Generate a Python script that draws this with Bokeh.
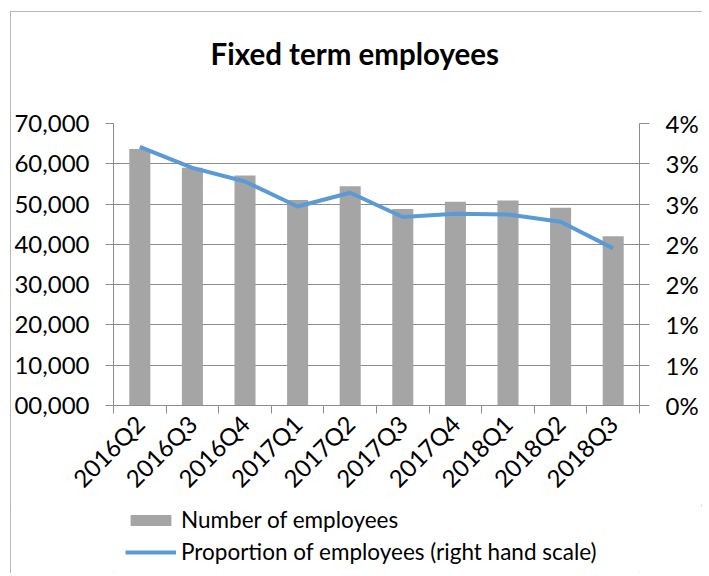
from bokeh.plotting import figure
from bokeh.layouts import column
from bokeh.models import Range1d, LinearAxis, FixedTicker, Legend, LegendItem, ColumnDataSource
from bokeh.embed import file_html
from bokeh.resources import INLINE

quarters = ["2016Q2", "2016Q3", "2016Q4", "2017Q1", "2017Q2",
            "2017Q3", "2017Q4", "2018Q1", "2018Q2", "2018Q3"]
employees = [63700, 59000, 57100, 51000, 54400, 48800, 50600, 50900, 49100, 42000]
proportion_pct = [3.21, 2.95, 2.78, 2.47, 2.64, 2.34, 2.38, 2.37, 2.28, 1.95]

left_ticks = [0, 10000, 20000, 30000, 40000, 50000, 60000, 70000]
left_tick_labels = ["00,000", "10,000", "20,000", "30,000", "40,000", "50,000", "60,000", "70,000"]
right_ticks = [0, 0.5, 1, 1.5, 2, 2.5, 3, 3.5]
right_tick_labels = ["0%", "1%", "1%", "2%", "2%", "3%", "3%", "4%"]
legend_labels = ["Number of employees", "Proportion of employees (right hand scale)"]

FONT = "Lato"
GRID = "#8c8c8c"
BAR = "#a5a5a5"
LINE = "#5b9bd5"

centers = [i + 0.5 for i in range(len(quarters))]
src = ColumnDataSource(dict(x=centers, q=quarters, emp=employees, pct=proportion_pct))

p = figure(output_backend="svg", toolbar_location=None,
           x_range=Range1d(0, len(quarters)), y_range=Range1d(0, 70000),
           frame_width=526, frame_height=282,
           min_border_left=103, min_border_top=112, min_border_right=63, min_border_bottom=90)
p.extra_y_ranges = {"pct": Range1d(0, 3.5)}
p.outline_line_color = None
p.background_fill_color = "white"

p.title.text = "Fixed term employees\n"
p.title.text_font = FONT
p.title.text_font_size = "29.5px"
p.title.text_font_style = "bold"
p.title.align = "left"
p.title.vertical_align = "top"
p.title.text_color = "black"
p.title.standoff = 32
p.title.offset = 97

bars = p.vbar(x="x", top="emp", width=0.4, source=src, fill_color=BAR, line_color=None)
line = p.line(x="x", y="pct", source=src, y_range_name="pct", line_color=LINE, line_width=4)

# x axis
xa = p.xaxis[0]
xa.ticker = FixedTicker(ticks=centers, minor_ticks=list(range(len(quarters) + 1)))
xa.major_label_overrides = {c: q for c, q in zip(centers, quarters)}
xa.major_tick_out = 0
xa.major_tick_in = 0
xa.minor_tick_out = 8
xa.minor_tick_in = 0
xa.minor_tick_line_color = GRID
xa.axis_line_color = GRID
xa.major_label_orientation = 0.785398
xa.major_label_text_font = FONT
xa.major_label_text_font_size = "24px"
xa.major_label_text_color = "black"
xa.major_label_standoff = 6

# left axis
ya = p.yaxis[0]
ya.ticker = FixedTicker(ticks=left_ticks)
ya.major_label_overrides = {t: l for t, l in zip(left_ticks, left_tick_labels)}
ya.major_tick_out = 8
ya.major_tick_in = 0
ya.minor_tick_out = 0
ya.minor_tick_in = 0
ya.major_tick_line_color = GRID
ya.axis_line_color = GRID
ya.major_label_text_font = FONT
ya.major_label_text_font_size = "24px"
ya.major_label_text_color = "black"
ya.major_label_standoff = 16

# right axis
ra = LinearAxis(y_range_name="pct", ticker=FixedTicker(ticks=right_ticks))
ra.major_label_overrides = {t: l for t, l in zip(right_ticks, right_tick_labels)}
ra.major_tick_out = 10
ra.major_tick_in = 0
ra.minor_tick_out = 0
ra.minor_tick_in = 0
ra.major_tick_line_color = GRID
ra.axis_line_color = GRID
ra.major_label_text_font = FONT
ra.major_label_text_font_size = "24px"
ra.major_label_text_color = "black"
ra.major_label_standoff = 16
p.add_layout(ra, "right")

p.xgrid.visible = False
p.ygrid.ticker = FixedTicker(ticks=left_ticks)
p.ygrid.grid_line_color = GRID

# legend strip below the chart (its frame is aligned with the chart frame)
lg = figure(output_backend="svg", toolbar_location=None, width=692, height=68,
            x_range=Range1d(0, 1), y_range=Range1d(0, 1),
            x_axis_type=None, y_axis_type=None,
            min_border_left=0, min_border_right=0, min_border_top=0, min_border_bottom=0)
lg.outline_line_color = None
lg.xgrid.visible = False
lg.ygrid.visible = False
lbar = lg.vbar(x="x", top="emp", width=0.4, source=src, fill_color=BAR, line_color=None, visible=False)
lline = lg.line(x="x", y="pct", source=src, line_color=LINE, line_width=4, visible=False)
legend = Legend(items=[LegendItem(label=legend_labels[0], renderers=[lbar]),
                       LegendItem(label=legend_labels[1], renderers=[lline])],
                location=(12, 8), orientation="vertical",
                glyph_width=51, glyph_height=14, label_standoff=5, spacing=5,
                padding=0, margin=0, border_line_color=None, background_fill_alpha=0,
                label_text_font=FONT, label_text_font_size="22.5px", label_text_color="black")
lg.add_layout(legend, "center")

layout = column(p, lg, spacing=0,
                styles={"margin-left": "10px", "margin-top": "11px",
                        "outline": "1px solid #a0a0a0", "outline-offset": "-1px"})

open("out.html", "w").write(file_html(layout, INLINE))
